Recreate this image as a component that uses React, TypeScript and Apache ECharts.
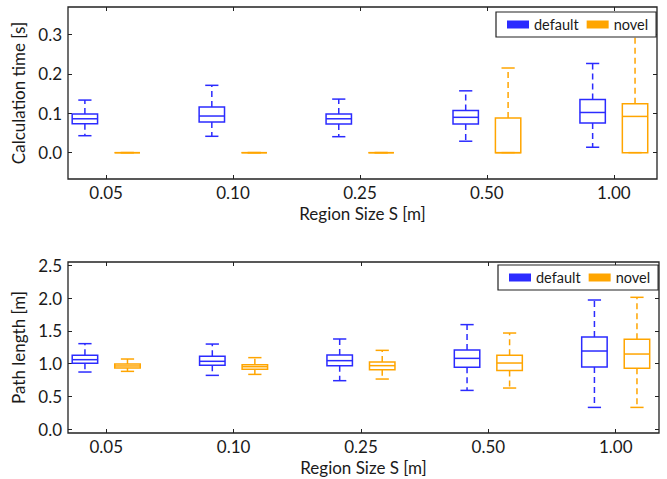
import React, { useEffect, useRef } from 'react';
import * as echarts from 'echarts';

const regionSizes = ['0.05', '0.10', '0.25', '0.50', '1.00'];

// each entry: [lower whisker, Q1, median, Q3, upper whisker]
const calcDefault = [
  [0.043, 0.0735, 0.086, 0.098, 0.1335],
  [0.0415, 0.078, 0.093, 0.116, 0.171],
  [0.0405, 0.073, 0.086, 0.098, 0.136],
  [0.029, 0.073, 0.0897, 0.107, 0.157],
  [0.0137, 0.075, 0.102, 0.135, 0.2265],
];
const calcNovel = [
  [0, 0, 0, 0, 0],
  [0, 0, 0, 0, 0],
  [0, 0, 0, 0, 0],
  [0, 0, 0, 0.088, 0.215],
  [0, 0, 0.092, 0.124, 0.33],
];
const pathDefault = [
  [0.874, 1.006, 1.062, 1.128, 1.306],
  [0.823, 0.976, 1.037, 1.113, 1.3],
  [0.742, 0.971, 1.047, 1.133, 1.377],
  [0.594, 0.945, 1.082, 1.209, 1.596],
  [0.335, 0.95, 1.194, 1.407, 1.971],
];
const pathNovel = [
  [0.884, 0.935, 0.966, 0.996, 1.072],
  [0.838, 0.915, 0.955, 0.986, 1.093],
  [0.767, 0.91, 0.971, 1.026, 1.204],
  [0.63, 0.899, 1.011, 1.128, 1.468],
  [0.335, 0.93, 1.148, 1.372, 2.012],
];

const calcTicks = [0, 0.1, 0.2, 0.3];
const pathTicks = [0, 0.5, 1.0, 1.5, 2.0, 2.5];
const xTicks = regionSizes.map((_, i) => i + 1);

const BLUE = '#2b2bff';
const ORANGE = '#ffa500';
const FRAME = '#222222';
const TEXT = '#1a1a1a';
const FONT = 'Lato';

function makeRender(offset: number, color: string) {
  return (params: any, api: any) => {
    const x = api.value(0) + offset;
    const pMin = api.coord([x, api.value(1)]);
    const pQ1 = api.coord([x, api.value(2)]);
    const pMed = api.coord([x, api.value(3)]);
    const pQ3 = api.coord([x, api.value(4)]);
    const pMax = api.coord([x, api.value(5)]);
    const bw = api.size([0.2, 0])[0];
    const cw = bw * 0.52;
    const cx = pMed[0];
    const solid = { stroke: color, lineWidth: 1.5, fill: null };
    const dash = { stroke: color, lineWidth: 1.5, lineDash: [6, 4], fill: null };
    return {
      type: 'group',
      children: [
        { type: 'line', shape: { x1: cx, y1: pQ3[1], x2: cx, y2: pMax[1] }, style: dash },
        { type: 'line', shape: { x1: cx, y1: pQ1[1], x2: cx, y2: pMin[1] }, style: dash },
        { type: 'line', shape: { x1: cx - cw / 2, y1: pMax[1], x2: cx + cw / 2, y2: pMax[1] }, style: solid },
        { type: 'line', shape: { x1: cx - cw / 2, y1: pMin[1], x2: cx + cw / 2, y2: pMin[1] }, style: solid },
        {
          type: 'rect',
          shape: { x: cx - bw / 2, y: pQ3[1], width: bw, height: pQ1[1] - pQ3[1] },
          style: { fill: 'none', stroke: color, lineWidth: 1.5 },
        },
        { type: 'line', shape: { x1: cx - bw / 2, y1: pMed[1], x2: cx + bw / 2, y2: pMed[1] }, style: solid },
      ],
    };
  };
}

function toData(stats: number[][]) {
  return stats.map((s, i) => [i + 1, ...s]);
}

function xAxes(gridIndex: number) {
  const base = {
    gridIndex,
    type: 'value',
    min: 0.7,
    max: 5.34,
    axisLine: { show: false, onZero: false },
    splitLine: { show: false },
    axisTick: { show: true, inside: true, length: 4, customValues: xTicks, lineStyle: { color: FRAME, width: 1 } },
  };
  return [
    {
      ...base,
      position: 'bottom',
      axisLabel: {
        show: true,
        customValues: xTicks,
        formatter: (v: number) => regionSizes[Math.round(v) - 1] ?? '',
        fontFamily: FONT,
        fontSize: 17,
        color: TEXT,
        margin: 5,
      },
      name: 'Region Size S [m]',
      nameLocation: 'middle',
      nameGap: 26,
      nameTextStyle: { fontFamily: FONT, fontSize: 17, color: TEXT },
    },
    { ...base, position: 'top', axisLabel: { show: false } },
  ];
}

function yAxes(gridIndex: number, min: number, max: number, ticks: number[], name: string) {
  const base = {
    gridIndex,
    type: 'value',
    min,
    max,
    axisLine: { show: false, onZero: false },
    splitLine: { show: false },
    axisTick: { show: true, inside: true, length: 4, customValues: ticks, lineStyle: { color: FRAME, width: 1 } },
  };
  return [
    {
      ...base,
      position: 'left',
      axisLabel: {
        show: true,
        customValues: ticks,
        formatter: (v: number) => v.toFixed(1),
        fontFamily: FONT,
        fontSize: 17,
        color: TEXT,
        margin: 6,
      },
      name,
      nameLocation: 'middle',
      nameGap: 37,
      nameTextStyle: { fontFamily: FONT, fontSize: 17, color: TEXT },
    },
    { ...base, position: 'right', axisLabel: { show: false } },
  ];
}

function legend(left: number, top: number) {
  return {
    left,
    top,
    orient: 'horizontal',
    data: [
      { name: 'default', itemStyle: { color: BLUE } },
      { name: 'novel', itemStyle: { color: ORANGE } },
    ],
    icon: 'rect',
    itemWidth: 22,
    itemHeight: 8,
    itemGap: 8,
    padding: [5, 8, 5, 11],
    borderColor: FRAME,
    borderWidth: 1.2,
    borderRadius: 0,
    backgroundColor: '#ffffff',
    selectedMode: false,
    textStyle: { fontFamily: FONT, fontSize: 14.5, color: TEXT },
    z: 10,
  };
}

export default function App() {
  const ref = useRef<HTMLDivElement>(null);
  useEffect(() => {
    if (!ref.current) return;
    const chart = echarts.init(ref.current, undefined, { renderer: 'svg' });
    const option: any = {
      animation: false,
      backgroundColor: '#ffffff',
      grid: [
        { left: 68, top: 7, width: 589, height: 172, show: true, borderColor: FRAME, borderWidth: 1.3, backgroundColor: 'transparent', containLabel: false },
        { left: 68, top: 262, width: 591, height: 171, show: true, borderColor: FRAME, borderWidth: 1.3, backgroundColor: 'transparent', containLabel: false },
      ],
      xAxis: [...xAxes(0), ...xAxes(1)],
      yAxis: [
        ...yAxes(0, -0.067, 0.37, calcTicks, 'Calculation time [s]'),
        ...yAxes(1, -0.055, 2.55, pathTicks, 'Path length [m]'),
      ],
      legend: [legend(496, 12), legend(498, 265)],
      series: [
        { name: 'default', type: 'custom', xAxisIndex: 0, yAxisIndex: 0, data: toData(calcDefault), renderItem: makeRender(-0.167, BLUE), itemStyle: { color: BLUE }, encode: { x: 0, y: [1, 2, 3, 4, 5] }, clip: true },
        { name: 'novel', type: 'custom', xAxisIndex: 0, yAxisIndex: 0, data: toData(calcNovel), renderItem: makeRender(0.167, ORANGE), itemStyle: { color: ORANGE }, encode: { x: 0, y: [1, 2, 3, 4, 5] }, clip: true },
        { name: 'default', type: 'custom', xAxisIndex: 2, yAxisIndex: 2, data: toData(pathDefault), renderItem: makeRender(-0.167, BLUE), itemStyle: { color: BLUE }, encode: { x: 0, y: [1, 2, 3, 4, 5] }, clip: true },
        { name: 'novel', type: 'custom', xAxisIndex: 2, yAxisIndex: 2, data: toData(pathNovel), renderItem: makeRender(0.167, ORANGE), itemStyle: { color: ORANGE }, encode: { x: 0, y: [1, 2, 3, 4, 5] }, clip: true },
      ],
    };
    chart.setOption(option);
    return () => chart.dispose();
  }, []);
  return <div ref={ref} style={{ position: 'fixed', left: 0, top: 0, width: 667, height: 479 }} />;
}
